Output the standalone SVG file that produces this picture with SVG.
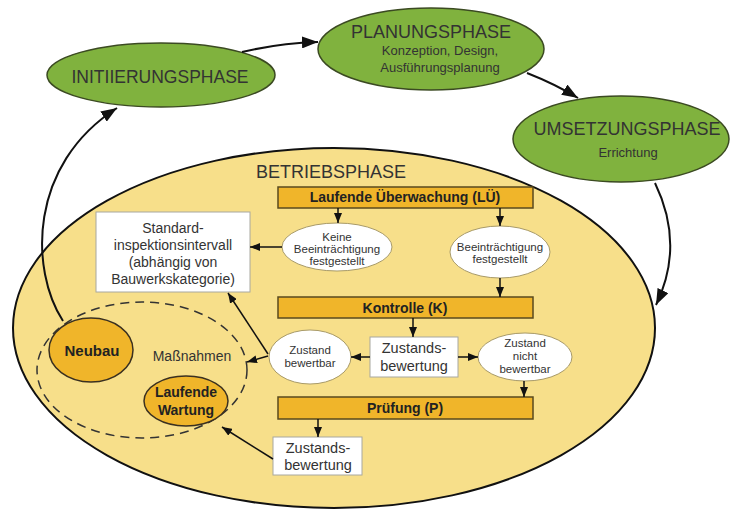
<svg xmlns="http://www.w3.org/2000/svg" width="731" height="509" viewBox="0 0 731 509">
<style>
text{font-family:"Liberation Sans",Arial,sans-serif;fill:#333;text-anchor:middle}
.ph{fill:#80b23e;stroke:#3b4a22;stroke-width:1.5}
.big{font-size:18px}
.sub{font-size:13px}
.bar{fill:#f0b52a;stroke:#5a4a1e;stroke-width:1.5}
.bt{font-size:14px;font-weight:bold;fill:#222}
.wb{fill:#fff;stroke:#a8a8a0;stroke-width:1}
.we{fill:#fff;stroke:#a89a68;stroke-width:1}
.sm{font-size:11.5px}
.md{font-size:14px}
.zb{font-size:14.5px}
.or{fill:#f0b52a;stroke:#3a3020;stroke-width:1.5}
.c{fill:none;stroke:#111;stroke-width:1.5}
.cb{fill:none;stroke:#111;stroke-width:2}
</style>
<defs>
<marker id="a" markerUnits="userSpaceOnUse" markerWidth="10" markerHeight="8" refX="10" refY="4" orient="auto"><path d="M0,0 L10,4 L0,8 Z" fill="#111"/></marker>
<marker id="A" markerUnits="userSpaceOnUse" markerWidth="16" markerHeight="12" refX="16" refY="6" orient="auto"><path d="M0,0 L16,6 L0,12 Z" fill="#111"/></marker>
</defs>
<rect width="731" height="509" fill="#fff"/>
<g id="betriebsphase">
<ellipse cx="334" cy="328" rx="321" ry="180" fill="#f7df8a" stroke="#111" stroke-width="2"/>
<text class="big" x="331" y="178">BETRIEBSPHASE</text>
</g>
<g id="initiierung"><ellipse class="ph" cx="161" cy="75" rx="114" ry="32"/><text class="big" x="160" y="83" style="font-size:17.5px">INITIIERUNGSPHASE</text></g>
<g id="planung"><ellipse class="ph" cx="431" cy="49" rx="113" ry="41"/><text class="big" x="431" y="38">PLANUNGSPHASE</text><text class="sub" x="440" y="55">Konzeption, Design,</text><text class="sub" x="440" y="72">Ausführungsplanung</text></g>
<g id="umsetzung"><ellipse class="ph" cx="621" cy="139" rx="108" ry="43"/><text class="big" x="627" y="135">UMSETZUNGSPHASE</text><text class="sub" x="628" y="157">Errichtung</text></g>
<g id="lue"><rect class="bar" x="278" y="187" width="255" height="21"/><text class="bt" x="405" y="202">Laufende Überwachung (LÜ)</text></g>
<g id="kontrolle"><rect class="bar" x="278" y="297" width="255" height="21"/><text class="bt" x="405" y="313">Kontrolle (K)</text></g>
<g id="pruefung"><rect class="bar" x="278" y="397" width="255" height="22"/><text class="bt" x="405" y="413">Prüfung (P)</text></g>
<g id="keine"><ellipse class="we" cx="337" cy="247" rx="55" ry="24"/><text class="sm" x="337" y="241">Keine</text><text class="sm" x="337" y="253">Beeinträchtigung</text><text class="sm" x="337" y="265">festgestellt</text></g>
<g id="beeintr"><ellipse class="we" cx="500" cy="252" rx="50" ry="26"/><text class="sm" x="500" y="251">Beeinträchtigung</text><text class="sm" x="500" y="263">festgestellt</text></g>
<g id="standard"><rect class="wb" x="96" y="212" width="154" height="80"/><text class="md" x="173" y="233">Standard-</text><text class="md" x="173" y="250">inspektionsintervall</text><text class="md" x="173" y="267">(abhängig von</text><text class="md" x="173" y="284">Bauwerkskategorie)</text></g>
<g id="zb1"><rect class="wb" x="370" y="337" width="88" height="40"/><text class="zb" x="414" y="353">Zustands-</text><text class="zb" x="414" y="371">bewertung</text></g>
<g id="bewertbar"><ellipse class="we" cx="310" cy="357" rx="41" ry="27"/><text class="sm" x="310" y="354">Zustand</text><text class="sm" x="310" y="367">bewertbar</text></g>
<g id="nichtbewertbar"><ellipse class="we" cx="525" cy="357" rx="47" ry="24"/><text class="sm" x="525" y="347">Zustand</text><text class="sm" x="525" y="360">nicht</text><text class="sm" x="525" y="373">bewertbar</text></g>
<g id="zb2"><rect class="wb" x="273" y="437" width="89" height="38"/><text class="zb" x="318" y="453">Zustands-</text><text class="zb" x="318" y="470">bewertung</text></g>
<g id="massnahmen"><ellipse cx="142" cy="370" rx="105" ry="68" fill="none" stroke="#333" stroke-width="1.5" stroke-dasharray="9,6"/><text class="md" x="192" y="361">Maßnahmen</text></g>
<g id="neubau"><ellipse class="or" cx="91" cy="350" rx="42" ry="32"/><text class="bt" x="92" y="356" style="font-size:15px">Neubau</text></g>
<g id="wartung"><ellipse class="or" cx="186" cy="401" rx="42" ry="25"/><text class="bt" x="186" y="397">Laufende</text><text class="bt" x="186" y="415">Wartung</text></g>
<g id="connectors">
<path class="cb" d="M242,52 Q280,43 318,42" marker-end="url(#A)"/>
<path class="cb" d="M527,73 Q555,84 578,98" marker-end="url(#A)"/>
<path class="cb" d="M655,183 Q685,245 656,305" marker-end="url(#A)"/>
<path class="cb" d="M63,321 C30,270 28,165 117,108" marker-end="url(#A)"/>
<path class="c" d="M338,208 L338,223" marker-end="url(#a)"/>
<path class="c" d="M500,208 L500,226" marker-end="url(#a)"/>
<path class="c" d="M500,278 L500,297" marker-end="url(#a)"/>
<path class="c" d="M282,247 L250,247" marker-end="url(#a)"/>
<path class="c" d="M413,318 L413,337" marker-end="url(#a)"/>
<path class="c" d="M370,357 L351,357" marker-end="url(#a)"/>
<path class="c" d="M458,357 L478,357" marker-end="url(#a)"/>
<path class="c" d="M524,381 L524,397" marker-end="url(#a)"/>
<path class="c" d="M268,356 L247,362" marker-end="url(#a)"/>
<path class="c" d="M268,354 L228,293" marker-end="url(#a)"/>
<path class="c" d="M318,419 L318,437" marker-end="url(#a)"/>
<path class="c" d="M273,459 L222,427" marker-end="url(#a)"/>
</g>
</svg>
